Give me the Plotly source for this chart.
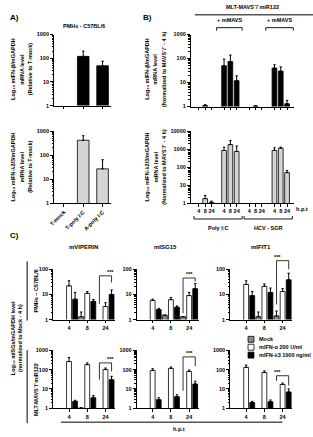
import math
import plotly.graph_objects as go

W, H = 313, 437
FONT = "Liberation Sans"

# ---------------- data ----------------
a_cats = ["T-mock", "T-poly I:C", "A-poly I:C"]
a_ifnb = [None, 120, 48]
a_ifnb_err = [None, 200, 75]
a_ifnl = [None, 420, 27]
a_ifnl_err = [None, 650, 65]

b_hpt = ["4", "8", "24"] * 4
b_ifnb = [None, 1.1, None, 50, 75, 12, None, 1.05, None, 40, 30, 1.3]
b_ifnb_err = [None, 1.2, None, 95, 140, 19, None, 1.1, None, 55, 45, 1.8]
b_ifnl = [None, 1.8, 1.1, 850, 1800, 750, None, None, None, 850, 1150, 50]
b_ifnl_err = [None, 2.7, 1.3, 1300, 3000, 1500, None, None, None, 1200, 1300, 65]

c_hpt = ["4", "8", "24"]
c_genes = ["mVIPERIN", "mISG15", "mIFIT1"]
c_legend = ["Mock", "mIFN-α 200 U/ml", "mIFN-λ3 1000 ng/ml"]

# PMHs - C57BL/6
viperin_pmh_mock = [None, 1.3, None]
viperin_pmh_mock_err = [None, 2.0, None]
viperin_pmh_a = [22, 11, 3.3]
viperin_pmh_a_err = [35, 13, 4.7]
viperin_pmh_l = [6.5, 5.3, 10]
viperin_pmh_l_err = [12, 6.3, 15]

isg15_pmh_mock = [None, 1.5, 1.3]
isg15_pmh_mock_err = [None, 1.5, 1.3]
isg15_pmh_a = [5.8, 6.2, 9]
isg15_pmh_a_err = [6.5, 7.5, 12]
isg15_pmh_l = [2.5, 3.1, 17]
isg15_pmh_l_err = [2.8, 3.5, 27]

ifit1_pmh_mock = [None, 1.3, 1.4]
ifit1_pmh_mock_err = [None, 2.0, 2.2]
ifit1_pmh_a = [25, 21, 13]
ifit1_pmh_a_err = [35, 26, 17]
ifit1_pmh_l = [9, 12, 38]
ifit1_pmh_l_err = [13, 18, 70]

# MLT-MAVS-/- miR122
viperin_mlt_mock = [None, 1.05, None]
viperin_mlt_mock_err = [None, 1.05, None]
viperin_mlt_a = [260, 180, 100]
viperin_mlt_a_err = [420, 220, 120]
viperin_mlt_l = [2.3, 3.5, 30]
viperin_mlt_l_err = [2.6, 4.5, 45]

isg15_mlt_mock = [None, None, None]
isg15_mlt_mock_err = [None, None, None]
isg15_mlt_a = [90, 115, 80]
isg15_mlt_a_err = [110, 135, 95]
isg15_mlt_l = [2.8, 4, 18]
isg15_mlt_l_err = [3.5, 5, 25]

ifit1_mlt_mock = [None, None, None]
ifit1_mlt_mock_err = [None, None, None]
ifit1_mlt_a = [130, 70, 17]
ifit1_mlt_a_err = [170, 85, 20]
ifit1_mlt_l = [2, 2.2, 7]
ifit1_mlt_l_err = [2.3, 2.7, 10]

# significance brackets (top, left end, right end) at 24 h
sig_pmh = [(55, 4.2, 30), (45, 1.8, 32), (220, 4.0, 100)]
sig_mlt = [(220, 30, 80), (450, 8, 150), (48, 26, 15)]

# ---------------- helpers ----------------
def px(x):
    return x / W


def py(y):
    return 1 - y / H


def tf(size=6):
    return dict(family=FONT, size=size, color="black", weight="bold")


fig = go.Figure()
axes = {}


def names(n):
    if n == 1:
        return "x", "y", "xaxis", "yaxis"
    return f"x{n}", f"y{n}", f"xaxis{n}", f"yaxis{n}"


def setup(n, x0, x1, ytop, ybot, xr, tv, tt, decades, tickangle=0, tsize=6):
    xa, ya, xk, yk = names(n)
    axes[xk] = dict(domain=[px(x0), px(x1)], anchor=ya, range=xr, showline=True,
                    linecolor="black", linewidth=1.2, ticks="outside", ticklen=2.5,
                    tickwidth=1, tickcolor="black", tickmode="array", tickvals=tv,
                    showticklabels=tt is not None,
                    ticktext=tt if tt is not None else [str(v) for v in tv],
                    tickfont=tf(tsize), showgrid=False, zeroline=False,
                    tickangle=tickangle, fixedrange=True)
    maj = [10 ** d for d in range(decades + 1)]
    mnr = [k * 10 ** d for d in range(decades) for k in range(2, 10)]
    axes[yk] = dict(domain=[py(ybot), py(ytop)], anchor=xa, type="log", range=[0, decades],
                    showline=True, linecolor="black", linewidth=1.2, ticks="outside",
                    ticklen=3, tickwidth=1, tickcolor="black", tickmode="array",
                    tickvals=maj, ticktext=[str(v) for v in maj], tickfont=tf(5.5),
                    showgrid=False, zeroline=False, fixedrange=True,
                    minor=dict(tickmode="array", tickvals=mnr, ticks="outside", ticklen=1.5,
                               tickwidth=0.6, tickcolor="black", showgrid=False))


def to_paper(n, xv, yv):
    # map a data point of subplot n to paper coords (for items drawn outside the clip area)
    _, _, xk, yk = names(n)
    xd, xr = axes[xk]["domain"], axes[xk]["range"]
    yd, yr = axes[yk]["domain"], axes[yk]["range"]
    fx = xd[0] + (xv - xr[0]) / (xr[1] - xr[0]) * (xd[1] - xd[0])
    fy = yd[0] + (math.log10(yv) - yr[0]) / (yr[1] - yr[0]) * (yd[1] - yd[0])
    return fx, fy


def bars(n, xs, vals, errs, color, width):
    xa, ya, _, _ = names(n)
    keep = [i for i, v in enumerate(vals) if v is not None]
    if not keep:
        return
    xs2 = [xs[i] for i in keep]
    v2 = [vals[i] for i in keep]
    plus = [(errs[i] - vals[i]) if errs[i] is not None else 0 for i in keep]
    fig.add_trace(go.Bar(x=xs2, y=v2, xaxis=xa, yaxis=ya, width=width,
                         marker=dict(color=color, line=dict(color="black", width=0.8)),
                         error_y=dict(type="data", array=plus, arrayminus=[0] * len(plus),
                                      symmetric=False, color="black", thickness=1, width=1.2),
                         showlegend=False, hoverinfo="skip"))


def text(x, y, s, size=6, angle=0, xanchor="center", yanchor="middle"):
    fig.add_annotation(x=px(x), y=py(y), xref="paper", yref="paper", text=s, showarrow=False,
                       textangle=angle, xanchor=xanchor, yanchor=yanchor, font=tf(size))


def line(x0, y0, x1, y1, w=0.9):
    fig.add_shape(type="line", xref="paper", yref="paper", x0=px(x0), y0=py(y0),
                  x1=px(x1), y1=py(y1), line=dict(color="black", width=w))


def sig(n, xl, xr, top, lend, rend):
    pts = [to_paper(n, xl, lend), to_paper(n, xl, top), to_paper(n, xr, top), to_paper(n, xr, rend)]
    for (a, b) in zip(pts[:-1], pts[1:]):
        fig.add_shape(type="line", xref="paper", yref="paper", x0=a[0], y0=a[1], x1=b[0], y1=b[1],
                      line=dict(color="black", width=0.8))
    fig.add_annotation(x=(pts[1][0] + pts[2][0]) / 2, y=pts[1][1], xref="paper", yref="paper",
                       text="***", showarrow=False, yanchor="bottom", font=tf(5.5), yshift=-1)


# ---------------- panel A ----------------
a_x = list(range(len(a_cats)))
setup(1, 50, 108, 32, 104, [-0.5, 2.45], a_x, None, 3)
bars(1, a_x, a_ifnb, a_ifnb_err, "black", 0.6)
setup(2, 50, 108, 130, 203, [-0.5, 2.45], a_x, a_cats, 3, tickangle=-45, tsize=5.5)
bars(2, a_x, a_ifnl, a_ifnl_err, "#d4d4d4", 0.6)

# ---------------- panel B ----------------
b_x = [g * 4 + i for g in range(4) for i in range(3)]
setup(3, 189, 294, 32, 105, [-1.25, 15.15], b_x, None, 3)
bars(3, b_x, b_ifnb, b_ifnb_err, "black", 0.75)
setup(4, 189, 294, 130, 203, [-1.25, 15.15], b_x, b_hpt, 4, tsize=5.5)
bars(4, b_x, b_ifnl, b_ifnl_err, "#d4d4d4", 0.75)

# ---------------- panel C ----------------
c_mock_x = [3 * g - 1 for g in range(3)]
c_a_x = [3 * g for g in range(3)]
c_l_x = [3 * g + 1 for g in range(3)]
c_cols = [(49, 112), (134, 197), (229, 292)]
pmh_sets = [
    (viperin_pmh_mock, viperin_pmh_mock_err, viperin_pmh_a, viperin_pmh_a_err, viperin_pmh_l, viperin_pmh_l_err),
    (isg15_pmh_mock, isg15_pmh_mock_err, isg15_pmh_a, isg15_pmh_a_err, isg15_pmh_l, isg15_pmh_l_err),
    (ifit1_pmh_mock, ifit1_pmh_mock_err, ifit1_pmh_a, ifit1_pmh_a_err, ifit1_pmh_l, ifit1_pmh_l_err),
]
mlt_sets = [
    (viperin_mlt_mock, viperin_mlt_mock_err, viperin_mlt_a, viperin_mlt_a_err, viperin_mlt_l, viperin_mlt_l_err),
    (isg15_mlt_mock, isg15_mlt_mock_err, isg15_mlt_a, isg15_mlt_a_err, isg15_mlt_l, isg15_mlt_l_err),
    (ifit1_mlt_mock, ifit1_mlt_mock_err, ifit1_mlt_a, ifit1_mlt_a_err, ifit1_mlt_l, ifit1_mlt_l_err),
]
MOCK, ALPHA, LAMBDA = "#8a8a8a", "white", "black"
n = 5
for row, (sets, sigs, ytop, ybot, dec) in enumerate([(pmh_sets, sig_pmh, 270, 321, 2),
                                                     (mlt_sets, sig_mlt, 352, 411, 3)]):
    for k, (x0, x1) in enumerate(c_cols):
        m, me, a, ae, l, le = sets[k]
        setup(n, x0, x1, ytop, ybot, [-2.6, 7.6], c_a_x, c_hpt, dec, tsize=5.5)
        bars(n, c_mock_x, m, me, MOCK, 0.8)
        bars(n, c_a_x, a, ae, ALPHA, 0.8)
        bars(n, c_l_x, l, le, LAMBDA, 0.8)
        t, le_, re_ = sigs[k]
        sig(n, c_mock_x[2], c_l_x[2], t, le_, re_)
        n += 1

# ---------------- text & decorations ----------------
text(3, 15, "A)", 8, xanchor="left")
text(138, 15, "B)", 8, xanchor="left")
text(3, 236, "C)", 8, xanchor="left")
text(80, 23, "PMHs - C57BL/6", 5.5)

text(8, 67, "Log₁₀ mIFN-β/mGAPDH", 5.5, -90)
text(17, 67, "mRNA level", 5.5, -90)
text(25.5, 67, "(Relative to T-mock)", 5.5, -90)
text(8, 166, "Log₁₀ mIFN-λ2/3/mGAPDH", 5.5, -90)
text(17, 166, "mRNA level", 5.5, -90)
text(25.5, 166, "(Relative to T-mock)", 5.5, -90)

text(144, 67, "Log₁₀ mIFN-β/mGAPDH", 5.5, -90)
text(153, 67, "mRNA level", 5.5, -90)
text(161.5, 67, "(Normalized to MAVS⁻/⁻ - 4 h)", 5.5, -90)
text(144, 166, "Log₁₀ mIFN-λ2/3/mGAPDH", 5.5, -90)
text(153, 166, "mRNA level", 5.5, -90)
text(161.5, 166, "(Normalized to MAVS⁻/⁻ - 4 h)", 5.5, -90)

text(252, 4, "MLT-MAVS⁻/⁻miR122", 5.5)
line(193, 12, 313, 12, 1)
for (xl, xr) in [(215, 241), (265, 293)]:
    text((xl + xr) / 2, 17.5, "+ mMAVS", 5.5)
    line(xl, 25, xr, 25)
    line(xl, 25, xl, 28)
    line(xr, 25, xr, 28)

text(302, 209, "h.p.t", 5.5)
for (xl, xr, lab) in [(192, 241, "Poly I:C"), (243, 292, "HCV - SGR")]:
    line(xl, 219, xr, 219)
    line(xl, 219, xl, 216)
    line(xr, 219, xr, 216)
    text((xl + xr) / 2, 228, lab, 5.5)

for (cx, g) in zip([80, 163, 260], c_genes):
    text(cx, 247, g, 6)

text(8, 340, "Log₁₀ mISGs/mGAPDH level", 5.5, -90)
text(16, 340, "(normalized to Mock - 4 h)", 5.5, -90)
line(22.5, 262, 22.5, 322, 1)
text(31, 292, "PMHs – C57BL/6", 5.5, -90)
line(22.5, 352, 22.5, 426, 1)
text(31, 392, "MLT-MAVS⁻/⁻miR122", 5.5, -90)

line(57, 425, 282, 425, 1)
text(177, 432, "h.p.t", 5.5)

for i, (lab, col) in enumerate(zip(c_legend, [MOCK, ALPHA, LAMBDA])):
    yy = 341 + 8 * i
    fig.add_shape(type="rect", xref="paper", yref="paper", x0=px(247), x1=px(253),
                  y0=py(yy + 3), y1=py(yy - 3), fillcolor=col, line=dict(color="black", width=0.8))
    text(256, yy, lab, 5.5, xanchor="left")

fig.update_layout(width=W, height=H, margin=dict(l=0, r=0, t=0, b=0),
                  paper_bgcolor="white", plot_bgcolor="white", barmode="overlay",
                  showlegend=False, font=dict(family=FONT, size=6, color="black"), **axes)

fig.write_html("out.html")
